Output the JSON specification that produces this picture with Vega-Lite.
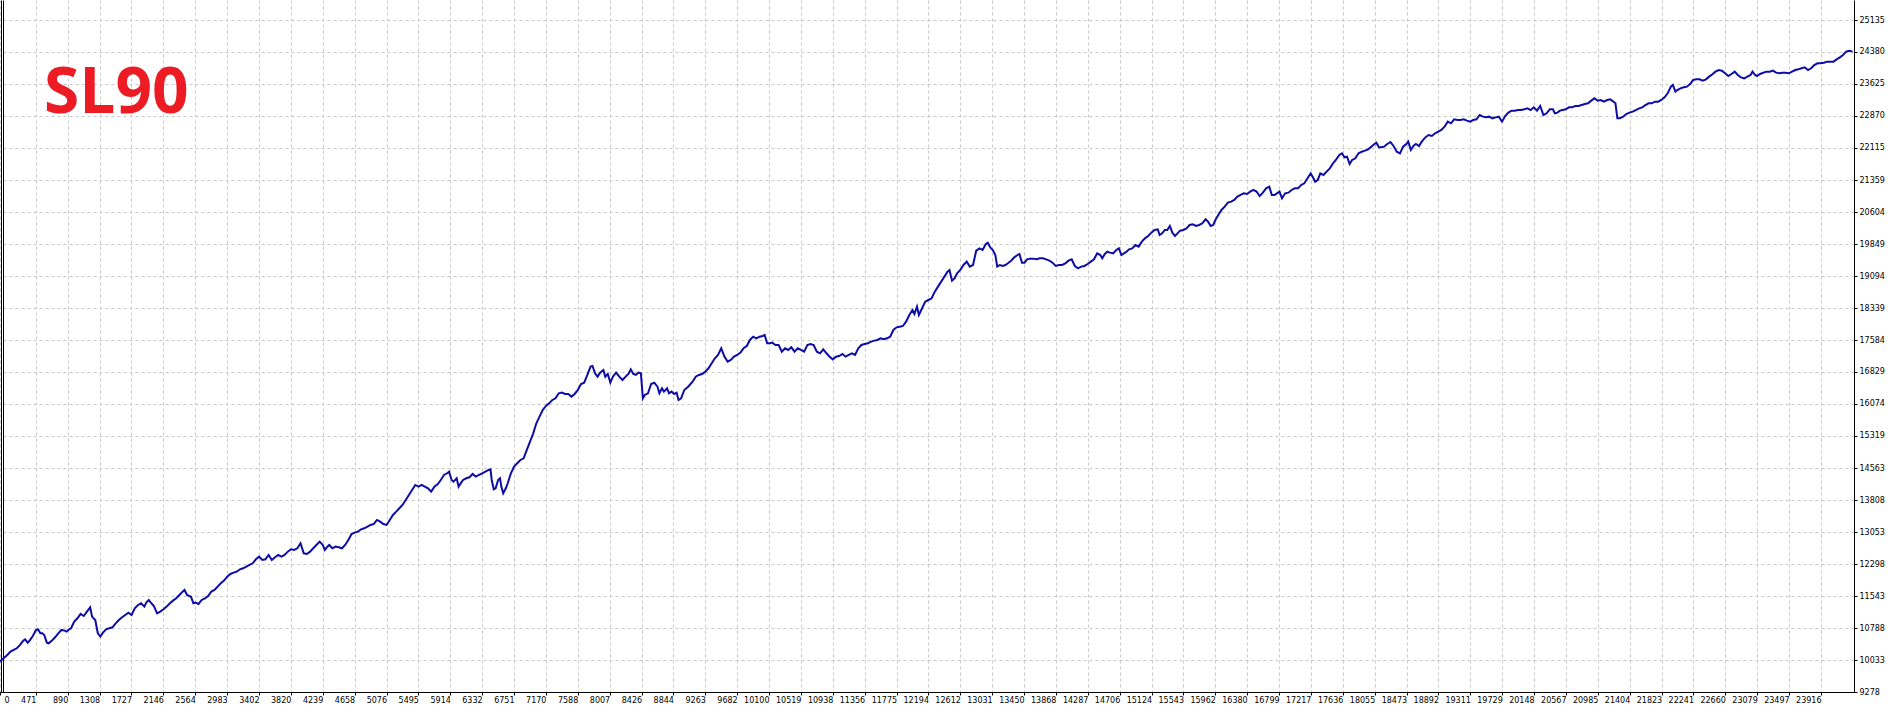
{
  "$schema": "https://vega.github.io/schema/vega-lite/v6.json",
  "width": 1854,
  "height": 692,
  "autosize": "none",
  "padding": {"left": 0, "top": 0, "right": 36, "bottom": 17},
  "background": "white",
  "title": {"text": "SL90", "anchor": "start", "frame": "group", "orient": "top", "offset": -177, "dx": 44, "baseline": "alphabetic", "font": "Open Sans", "fontSize": 64, "fontWeight": "bold", "color": "#ed1c24"},
  "config": {"view": {"stroke": null}},
  "datasets": {
    "eq": [
      {"t":0,"v":10000},{"t":96,"v":10152},{"t":138,"v":10231},{"t":179,"v":10270},{"t":221,"v":10310},{"t":263,"v":10388},{"t":305,"v":10490},{"t":330,"v":10522},{"t":364,"v":10443},{"t":389,"v":10490},{"t":431,"v":10600},{"t":472,"v":10742},{"t":498,"v":10758},{"t":531,"v":10663},{"t":556,"v":10663},{"t":581,"v":10624},{"t":615,"v":10443},{"t":640,"v":10427},{"t":682,"v":10490},{"t":724,"v":10569},{"t":765,"v":10663},{"t":807,"v":10742},{"t":849,"v":10726},{"t":874,"v":10703},{"t":908,"v":10758},{"t":933,"v":10781},{"t":975,"v":10939},{"t":1017,"v":11017},{"t":1059,"v":11120},{"t":1100,"v":11072},{"t":1142,"v":11175},{"t":1184,"v":11277},{"t":1209,"v":11057},{"t":1251,"v":10978},{"t":1285,"v":10663},{"t":1318,"v":10585},{"t":1352,"v":10679},{"t":1393,"v":10758},{"t":1435,"v":10781},{"t":1477,"v":10805},{"t":1519,"v":10899},{"t":1561,"v":10978},{"t":1603,"v":11041},{"t":1645,"v":11096},{"t":1686,"v":11151},{"t":1728,"v":11096},{"t":1770,"v":11253},{"t":1812,"v":11332},{"t":1854,"v":11371},{"t":1896,"v":11293},{"t":1921,"v":11387},{"t":1954,"v":11450},{"t":1988,"v":11371},{"t":2021,"v":11308},{"t":2063,"v":11135},{"t":2105,"v":11175},{"t":2147,"v":11230},{"t":2189,"v":11293},{"t":2231,"v":11371},{"t":2272,"v":11434},{"t":2314,"v":11489},{"t":2356,"v":11568},{"t":2398,"v":11646},{"t":2423,"v":11686},{"t":2457,"v":11568},{"t":2482,"v":11544},{"t":2507,"v":11529},{"t":2540,"v":11371},{"t":2565,"v":11387},{"t":2607,"v":11356},{"t":2649,"v":11450},{"t":2691,"v":11489},{"t":2733,"v":11544},{"t":2775,"v":11646},{"t":2817,"v":11686},{"t":2858,"v":11764},{"t":2900,"v":11843},{"t":2942,"v":11906},{"t":2984,"v":12000},{"t":3026,"v":12063},{"t":3068,"v":12095},{"t":3110,"v":12118},{"t":3152,"v":12173},{"t":3193,"v":12197},{"t":3235,"v":12236},{"t":3277,"v":12276},{"t":3319,"v":12315},{"t":3361,"v":12409},{"t":3403,"v":12472},{"t":3445,"v":12394},{"t":3486,"v":12409},{"t":3528,"v":12512},{"t":3570,"v":12394},{"t":3612,"v":12457},{"t":3654,"v":12512},{"t":3696,"v":12472},{"t":3738,"v":12512},{"t":3779,"v":12590},{"t":3821,"v":12645},{"t":3863,"v":12630},{"t":3905,"v":12669},{"t":3947,"v":12787},{"t":3989,"v":12551},{"t":4031,"v":12535},{"t":4072,"v":12590},{"t":4114,"v":12669},{"t":4156,"v":12748},{"t":4198,"v":12826},{"t":4240,"v":12748},{"t":4265,"v":12630},{"t":4299,"v":12708},{"t":4324,"v":12748},{"t":4365,"v":12669},{"t":4407,"v":12708},{"t":4449,"v":12693},{"t":4491,"v":12669},{"t":4533,"v":12748},{"t":4575,"v":12866},{"t":4617,"v":13007},{"t":4658,"v":13039},{"t":4700,"v":13062},{"t":4742,"v":13117},{"t":4784,"v":13141},{"t":4826,"v":13180},{"t":4868,"v":13220},{"t":4910,"v":13243},{"t":4951,"v":13337},{"t":4993,"v":13298},{"t":5035,"v":13243},{"t":5077,"v":13220},{"t":5119,"v":13337},{"t":5161,"v":13455},{"t":5203,"v":13534},{"t":5245,"v":13613},{"t":5286,"v":13691},{"t":5328,"v":13809},{"t":5370,"v":13927},{"t":5412,"v":14045},{"t":5454,"v":14163},{"t":5496,"v":14124},{"t":5538,"v":14163},{"t":5579,"v":14124},{"t":5621,"v":14085},{"t":5663,"v":14006},{"t":5705,"v":14124},{"t":5747,"v":14179},{"t":5789,"v":14281},{"t":5831,"v":14399},{"t":5872,"v":14439},{"t":5898,"v":14478},{"t":5931,"v":14281},{"t":5956,"v":14242},{"t":5998,"v":14321},{"t":6023,"v":14124},{"t":6057,"v":14218},{"t":6082,"v":14281},{"t":6124,"v":14321},{"t":6165,"v":14344},{"t":6207,"v":14423},{"t":6249,"v":14360},{"t":6291,"v":14399},{"t":6333,"v":14439},{"t":6375,"v":14478},{"t":6417,"v":14517},{"t":6442,"v":14533},{"t":6458,"v":14281},{"t":6484,"v":14061},{"t":6509,"v":14085},{"t":6542,"v":14281},{"t":6567,"v":14321},{"t":6584,"v":14124},{"t":6609,"v":13967},{"t":6643,"v":14085},{"t":6668,"v":14203},{"t":6710,"v":14439},{"t":6751,"v":14596},{"t":6793,"v":14675},{"t":6835,"v":14753},{"t":6877,"v":14793},{"t":6919,"v":14989},{"t":6961,"v":15186},{"t":7003,"v":15382},{"t":7044,"v":15618},{"t":7086,"v":15776},{"t":7128,"v":15933},{"t":7170,"v":16027},{"t":7212,"v":16090},{"t":7254,"v":16169},{"t":7296,"v":16208},{"t":7338,"v":16326},{"t":7379,"v":16342},{"t":7421,"v":16310},{"t":7463,"v":16310},{"t":7505,"v":16248},{"t":7547,"v":16310},{"t":7589,"v":16405},{"t":7631,"v":16546},{"t":7672,"v":16578},{"t":7714,"v":16759},{"t":7756,"v":16955},{"t":7781,"v":16971},{"t":7815,"v":16798},{"t":7848,"v":16719},{"t":7882,"v":16814},{"t":7924,"v":16877},{"t":7949,"v":16719},{"t":7982,"v":16782},{"t":8016,"v":16578},{"t":8049,"v":16719},{"t":8091,"v":16814},{"t":8133,"v":16719},{"t":8175,"v":16641},{"t":8217,"v":16719},{"t":8258,"v":16798},{"t":8284,"v":16892},{"t":8317,"v":16782},{"t":8350,"v":16759},{"t":8384,"v":16814},{"t":8417,"v":16798},{"t":8443,"v":16208},{"t":8468,"v":16287},{"t":8510,"v":16326},{"t":8551,"v":16546},{"t":8593,"v":16578},{"t":8635,"v":16483},{"t":8660,"v":16326},{"t":8694,"v":16444},{"t":8719,"v":16366},{"t":8761,"v":16444},{"t":8786,"v":16326},{"t":8819,"v":16366},{"t":8853,"v":16310},{"t":8886,"v":16342},{"t":8911,"v":16169},{"t":8945,"v":16208},{"t":8987,"v":16405},{"t":9037,"v":16483},{"t":9096,"v":16601},{"t":9137,"v":16719},{"t":9179,"v":16759},{"t":9221,"v":16782},{"t":9263,"v":16837},{"t":9305,"v":16916},{"t":9347,"v":17034},{"t":9389,"v":17152},{"t":9430,"v":17231},{"t":9472,"v":17388},{"t":9514,"v":17191},{"t":9556,"v":17073},{"t":9598,"v":17113},{"t":9640,"v":17191},{"t":9682,"v":17231},{"t":9724,"v":17286},{"t":9765,"v":17388},{"t":9807,"v":17443},{"t":9849,"v":17585},{"t":9891,"v":17663},{"t":9933,"v":17624},{"t":9975,"v":17663},{"t":10017,"v":17679},{"t":10042,"v":17703},{"t":10075,"v":17506},{"t":10109,"v":17506},{"t":10142,"v":17522},{"t":10184,"v":17467},{"t":10226,"v":17467},{"t":10268,"v":17309},{"t":10310,"v":17388},{"t":10351,"v":17349},{"t":10393,"v":17412},{"t":10435,"v":17309},{"t":10477,"v":17388},{"t":10519,"v":17349},{"t":10561,"v":17309},{"t":10603,"v":17467},{"t":10644,"v":17490},{"t":10686,"v":17467},{"t":10728,"v":17309},{"t":10770,"v":17270},{"t":10812,"v":17364},{"t":10854,"v":17270},{"t":10896,"v":17191},{"t":10937,"v":17128},{"t":10979,"v":17191},{"t":11021,"v":17207},{"t":11063,"v":17254},{"t":11105,"v":17191},{"t":11147,"v":17231},{"t":11189,"v":17270},{"t":11230,"v":17231},{"t":11272,"v":17388},{"t":11314,"v":17467},{"t":11356,"v":17490},{"t":11398,"v":17506},{"t":11440,"v":17545},{"t":11482,"v":17569},{"t":11523,"v":17585},{"t":11565,"v":17624},{"t":11607,"v":17600},{"t":11649,"v":17624},{"t":11691,"v":17663},{"t":11733,"v":17821},{"t":11775,"v":17883},{"t":11817,"v":17899},{"t":11858,"v":17915},{"t":11900,"v":18017},{"t":11942,"v":18174},{"t":11984,"v":18292},{"t":12009,"v":18198},{"t":12043,"v":18371},{"t":12068,"v":18174},{"t":12110,"v":18332},{"t":12151,"v":18489},{"t":12193,"v":18528},{"t":12235,"v":18568},{"t":12277,"v":18725},{"t":12319,"v":18843},{"t":12361,"v":18961},{"t":12403,"v":19079},{"t":12444,"v":19197},{"t":12470,"v":19236},{"t":12503,"v":18985},{"t":12537,"v":19040},{"t":12570,"v":19158},{"t":12612,"v":19236},{"t":12654,"v":19354},{"t":12696,"v":19433},{"t":12737,"v":19315},{"t":12779,"v":19354},{"t":12821,"v":19692},{"t":12863,"v":19747},{"t":12905,"v":19708},{"t":12947,"v":19850},{"t":12972,"v":19881},{"t":13005,"v":19771},{"t":13039,"v":19708},{"t":13072,"v":19590},{"t":13097,"v":19315},{"t":13131,"v":19354},
      {"t":13170,"v":19331},{"t":13204,"v":19354},{"t":13237,"v":19394},{"t":13279,"v":19456},{"t":13321,"v":19535},{"t":13363,"v":19590},{"t":13388,"v":19614},{"t":13422,"v":19409},{"t":13455,"v":19409},{"t":13489,"v":19488},{"t":13530,"v":19504},{"t":13572,"v":19504},{"t":13614,"v":19488},{"t":13656,"v":19512},{"t":13698,"v":19512},{"t":13740,"v":19488},{"t":13782,"v":19456},{"t":13823,"v":19409},{"t":13865,"v":19331},{"t":13907,"v":19354},{"t":13949,"v":19354},{"t":13991,"v":19394},{"t":14033,"v":19456},{"t":14075,"v":19488},{"t":14116,"v":19331},{"t":14158,"v":19276},{"t":14200,"v":19315},{"t":14242,"v":19331},{"t":14284,"v":19378},{"t":14326,"v":19433},{"t":14368,"v":19488},{"t":14409,"v":19629},{"t":14451,"v":19590},{"t":14476,"v":19512},{"t":14510,"v":19614},{"t":14543,"v":19669},{"t":14577,"v":19645},{"t":14619,"v":19629},{"t":14661,"v":19708},{"t":14694,"v":19747},{"t":14728,"v":19590},{"t":14761,"v":19629},{"t":14795,"v":19669},{"t":14828,"v":19724},{"t":14870,"v":19747},{"t":14912,"v":19826},{"t":14954,"v":19787},{"t":14996,"v":19905},{"t":15037,"v":19983},{"t":15079,"v":20038},{"t":15121,"v":20117},{"t":15163,"v":20180},{"t":15205,"v":20196},{"t":15230,"v":20062},{"t":15263,"v":20101},{"t":15297,"v":20180},{"t":15330,"v":20180},{"t":15364,"v":20274},{"t":15397,"v":20117},{"t":15431,"v":20038},{"t":15464,"v":20101},{"t":15498,"v":20164},{"t":15540,"v":20180},{"t":15582,"v":20219},{"t":15623,"v":20298},{"t":15665,"v":20314},{"t":15707,"v":20274},{"t":15749,"v":20298},{"t":15791,"v":20337},{"t":15833,"v":20432},{"t":15866,"v":20377},{"t":15900,"v":20274},{"t":15933,"v":20298},{"t":15967,"v":20432},{"t":16000,"v":20534},{"t":16042,"v":20652},{"t":16084,"v":20731},{"t":16126,"v":20825},{"t":16168,"v":20849},{"t":16210,"v":20888},{"t":16251,"v":20967},{"t":16293,"v":21006},{"t":16335,"v":21045},{"t":16377,"v":21029},{"t":16419,"v":21085},{"t":16461,"v":21124},{"t":16502,"v":21085},{"t":16544,"v":20982},{"t":16586,"v":21061},{"t":16628,"v":21163},{"t":16670,"v":21202},{"t":16703,"v":21006},{"t":16737,"v":21006},{"t":16770,"v":21045},{"t":16804,"v":21085},{"t":16837,"v":20927},{"t":16879,"v":21045},{"t":16921,"v":21061},{"t":16963,"v":21124},{"t":17005,"v":21163},{"t":17047,"v":21163},{"t":17089,"v":21242},{"t":17130,"v":21281},{"t":17172,"v":21399},{"t":17214,"v":21517},{"t":17239,"v":21438},{"t":17273,"v":21320},{"t":17306,"v":21360},{"t":17340,"v":21517},{"t":17382,"v":21478},{"t":17423,"v":21556},{"t":17465,"v":21635},{"t":17507,"v":21753},{"t":17549,"v":21847},{"t":17591,"v":21950},{"t":17624,"v":21989},{"t":17658,"v":21895},{"t":17691,"v":21910},{"t":17725,"v":21737},{"t":17758,"v":21832},{"t":17800,"v":21871},{"t":17842,"v":21989},{"t":17884,"v":22028},{"t":17926,"v":22052},{"t":17968,"v":22083},{"t":18009,"v":22146},{"t":18051,"v":22209},{"t":18076,"v":22241},{"t":18110,"v":22131},{"t":18143,"v":22131},{"t":18177,"v":22146},{"t":18219,"v":22209},{"t":18261,"v":22256},{"t":18302,"v":22162},{"t":18344,"v":22028},{"t":18386,"v":21989},{"t":18428,"v":22146},{"t":18470,"v":22209},{"t":18495,"v":22264},{"t":18529,"v":22068},{"t":18562,"v":22162},{"t":18596,"v":22209},{"t":18637,"v":22162},{"t":18663,"v":22241},{"t":18696,"v":22319},{"t":18730,"v":22382},{"t":18763,"v":22422},{"t":18805,"v":22398},{"t":18847,"v":22461},{"t":18889,"v":22500},{"t":18930,"v":22540},{"t":18972,"v":22618},{"t":19014,"v":22736},{"t":19056,"v":22697},{"t":19098,"v":22791},{"t":19140,"v":22775},{"t":19182,"v":22775},{"t":19224,"v":22791},{"t":19265,"v":22760},{"t":19307,"v":22736},{"t":19349,"v":22775},{"t":19391,"v":22791},{"t":19433,"v":22893},{"t":19475,"v":22854},{"t":19517,"v":22838},{"t":19558,"v":22854},{"t":19600,"v":22815},{"t":19642,"v":22838},{"t":19684,"v":22854},{"t":19726,"v":22736},{"t":19768,"v":22870},{"t":19810,"v":22949},{"t":19851,"v":22996},{"t":19893,"v":22996},{"t":19935,"v":23011},{"t":19977,"v":23011},{"t":20019,"v":23027},{"t":20061,"v":23051},{"t":20102,"v":23011},{"t":20144,"v":23074},{"t":20186,"v":22996},{"t":20228,"v":23106},{"t":20270,"v":22893},{"t":20312,"v":22933},{"t":20354,"v":23027},{"t":20395,"v":23027},{"t":20420,"v":22933},{"t":20454,"v":22949},{"t":20487,"v":22996},{"t":20521,"v":23011},{"t":20563,"v":23027},{"t":20605,"v":23074},{"t":20647,"v":23074},{"t":20688,"v":23106},{"t":20730,"v":23106},{"t":20772,"v":23129},{"t":20814,"v":23153},{"t":20856,"v":23169},{"t":20898,"v":23232},{"t":20940,"v":23287},{"t":20981,"v":23232},{"t":21023,"v":23247},{"t":21065,"v":23208},{"t":21107,"v":23247},{"t":21149,"v":23263},{"t":21191,"v":23208},{"t":21216,"v":23169},{"t":21241,"v":22815},{"t":21275,"v":22815},{"t":21316,"v":22854},{"t":21358,"v":22917},{"t":21400,"v":22949},{"t":21442,"v":22972},{"t":21484,"v":23011},{"t":21526,"v":23051},{"t":21568,"v":23074},{"t":21609,"v":23129},{"t":21651,"v":23169},{"t":21693,"v":23169},{"t":21735,"v":23208},{"t":21777,"v":23208},{"t":21819,"v":23247},{"t":21861,"v":23310},{"t":21902,"v":23405},{"t":21944,"v":23562},{"t":21970,"v":23601},{"t":22003,"v":23444},{"t":22028,"v":23483},{"t":22070,"v":23523},{"t":22112,"v":23546},{"t":22154,"v":23562},{"t":22196,"v":23625},{"t":22237,"v":23719},{"t":22279,"v":23735},{"t":22321,"v":23735},{"t":22363,"v":23704},{"t":22405,"v":23735},{"t":22447,"v":23798},{"t":22489,"v":23853},{"t":22530,"v":23916},{"t":22572,"v":23955},{"t":22614,"v":23940},{"t":22656,"v":23877},{"t":22698,"v":23814},{"t":22740,"v":23861},{"t":22782,"v":23916},{"t":22823,"v":23837},{"t":22865,"v":23782},{"t":22907,"v":23759},{"t":22949,"v":23798},{"t":22991,"v":23837},{"t":23016,"v":23916},{"t":23050,"v":23837},{"t":23075,"v":23814},{"t":23116,"v":23861},{"t":23158,"v":23892},{"t":23200,"v":23916},{"t":23242,"v":23916},{"t":23284,"v":23940},{"t":23326,"v":23892},{"t":23368,"v":23877},{"t":23409,"v":23892},{"t":23451,"v":23892},{"t":23493,"v":23877},{"t":23535,"v":23916},{"t":23577,"v":23955},{"t":23619,"v":23971},{"t":23661,"v":23995},{"t":23702,"v":24018},{"t":23744,"v":23955},{"t":23786,"v":23995},{"t":23828,"v":24073},{"t":23870,"v":24113},{"t":23912,"v":24113},{"t":23954,"v":24128},{"t":23995,"v":24152},{"t":24037,"v":24152},{"t":24079,"v":24152},{"t":24121,"v":24207},{"t":24163,"v":24254},{"t":24205,"v":24309},{"t":24246,"v":24388},{"t":24288,"v":24411},{"t":24330,"v":24388}
    ]
  },
  "data": {"name": "eq"},
  "resolve": {"axis": {"x": "independent", "y": "independent"}},
  "layer": [
    {
      "mark": {"type": "line", "strokeWidth": 0, "opacity": 0},
      "encoding": {
        "x": {"field": "t", "type": "quantitative", "scale": {"domain": [0, 24349], "nice": false, "zero": false}, "axis": null},
        "y": {"field": "v", "type": "quantitative", "scale": {"domain": [9278, 25607], "nice": false, "zero": false},
          "axis": {"orient": "left", "offset": -1, "labels": false, "ticks": false, "grid": false, "title": null, "domain": true, "domainColor": "#000000", "domainWidth": 1}}
      }
    },
    {
      "mark": {"type": "line", "strokeWidth": 0, "opacity": 0},
      "encoding": {
        "x": {"field": "t", "type": "quantitative", "axis": null},
        "y": {"field": "v", "type": "quantitative",
          "axis": {"orient": "left", "offset": -3, "labels": false, "ticks": false, "grid": false, "title": null, "domain": true, "domainColor": "#000000", "domainWidth": 1}}
      }
    },
    {
      "mark": {"type": "line", "color": "#0d0da6", "strokeWidth": 2, "interpolate": "linear"},
      "encoding": {
        "x": {"field": "t", "type": "quantitative",
          "axis": {"orient": "bottom", "title": null, "format": "d",
            "values": [0,471,890,1308,1727,2146,2564,2983,3402,3820,4239,4658,5076,5495,5914,6332,6751,7170,7588,8007,8426,8844,9263,9682,10100,10519,10938,11356,11775,12194,12612,13031,13450,13868,14287,14706,15124,15543,15962,16380,16799,17217,17636,18055,18473,18892,19311,19729,20148,20567,20985,21404,21823,22241,22660,23079,23497,23916],
            "labelAlign": {"condition": {"test": "datum.value == 0", "value": "left"}, "value": "right"},
            "labelOffset": {"condition": {"test": "datum.value == 0", "value": 4}, "value": 0},
            "labelFont": "DejaVu Sans", "labelFontSize": 8, "labelColor": "#000000", "labelPadding": 1, "labelBaseline": "top",
            "labelOverlap": false, "labelBound": false, "labelFlush": false,
            "ticks": true, "tickSize": 3, "tickColor": "#000000",
            "domain": true, "domainColor": "#000000", "domainWidth": 1,
            "grid": true, "gridColor": "#c8c8c8", "gridDash": [3, 3], "gridWidth": 1}},
        "y": {"field": "v", "type": "quantitative",
          "axis": {"orient": "right", "title": null, "format": "d",
            "values": [9278,10033,10788,11543,12298,13053,13808,14563,15319,16074,16829,17584,18339,19094,19849,20604,21359,22115,22870,23625,24380,25135],
            "labelFont": "DejaVu Sans", "labelFontSize": 8, "labelColor": "#000000", "labelPadding": 2, "labelAlign": "left", "labelBaseline": "middle",
            "labelOverlap": false, "labelBound": false, "labelFlush": false,
            "ticks": true, "tickSize": 3, "tickColor": "#000000",
            "domain": true, "domainColor": "#000000", "domainWidth": 1,
            "grid": true, "gridColor": "#c8c8c8", "gridDash": [3, 3], "gridWidth": 1}}
      }
    }
  ]
}
